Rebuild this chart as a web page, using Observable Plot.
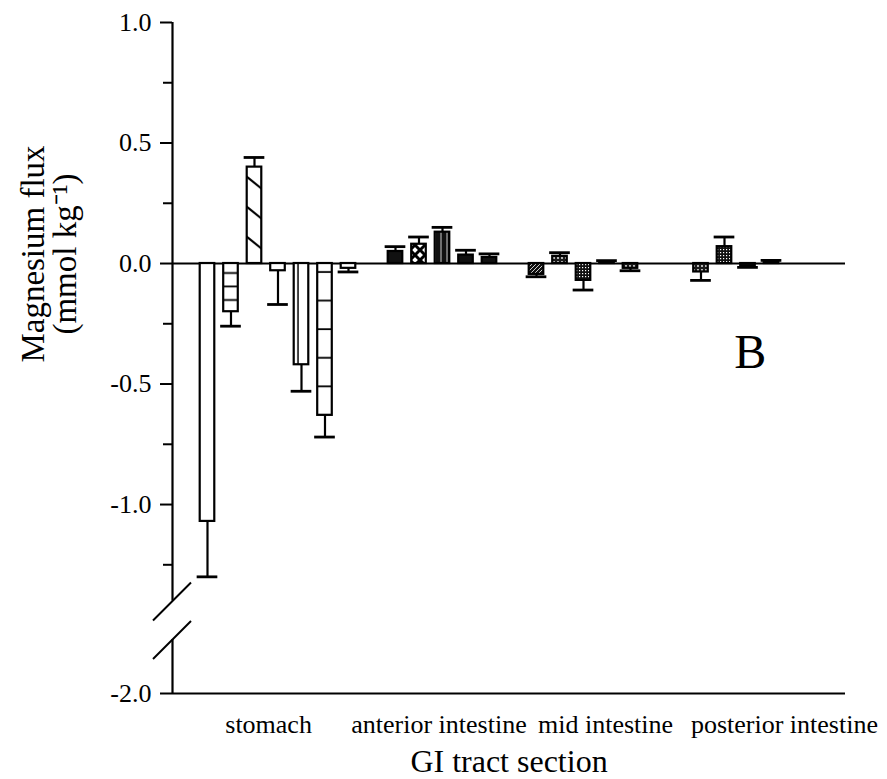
<!DOCTYPE html>
<html>
<head>
<meta charset="utf-8">
<script src="https://cdn.jsdelivr.net/npm/d3@7"></script>
<script src="https://cdn.jsdelivr.net/npm/@observablehq/plot@0.6"></script>
<style>
  html, body { margin: 0; padding: 0; background: #fff; }
  svg { display: block; }
</style>
</head>
<body>
<div id="chart"></div>
<script>
// ---------- data ----------
const categories = ["stomach", "anterior intestine", "mid intestine", "posterior intestine"];
// seven treatments per GI section (mean flux, mmol kg-1)
const stomachMeans   = [-1.07, -0.20, 0.40, -0.03, -0.42, -0.63, -0.02];
const stomachErrs    = [0.23, 0.06, 0.04, 0.14, 0.11, 0.09, 0.015];
const anteriorMeans  = [0, 0.05, 0.08, 0.13, 0.035, 0.025, 0];
const anteriorErrs   = [0, 0.02, 0.03, 0.02, 0.02, 0.015, 0];
const midMeans       = [-0.045, 0.03, -0.07, 0.005, -0.02, 0, 0];
const midErrs        = [0.01, 0.015, 0.04, 0.007, 0.01, 0, 0];
const posteriorMeans = [-0.035, 0.07, -0.01, 0.005, 0, 0, 0];
const posteriorErrs  = [0.035, 0.04, 0.006, 0.008, 0, 0, 0];

const majorTicks = [-2.0, -1.0, -0.5, 0.0, 0.5, 1.0];
const minorTicks = [-1.25, -0.75, -0.25, 0.25, 0.75];
const categoryLabelPos = [2.6, 9.85, 16.94, 24.55];   // in bar-slot units
const axisSegments = [{from: 1.0, to: -1.40}, {from: -1.65, to: -2.0}];
const breakAt = [-1.40, -1.65];
const yTitle = "Magnesium flux\n(mmol kg\u207B\u00B9)";
const xTitle = "GI tract section";
const panelLetter = "B";
const panelLetterPos = {x: 23.1, y: -0.37};

// ---------- styles (fills per bar) ----------
const stomachFill   = ["white", "url(#pHl13)", "url(#pDiag)", "white", "url(#pVl)", "url(#pHl28)", "white"];
const anteriorFill  = ["#111", "#111", "url(#pX)", "url(#pBlackV)", "#111", "#111", "#111"];
const midFill       = ["url(#pHatch)", "url(#pDots)", "url(#pChecker)", "#111", "url(#pDots)", "#111", "#111"];
const posteriorFill = ["url(#pDots)", "url(#pChecker)", "#111", "#111", "#111", "#111", "#111"];

// broken axis: values below the break are compressed
const breakTop = -1.40, compress = 0.64;
const fold = v => v >= breakTop ? v : breakTop + (v - breakTop) * compress;
const unfold = u => u >= breakTop ? u : breakTop + (u - breakTop) / compress;

const groupMeans = [stomachMeans, anteriorMeans, midMeans, posteriorMeans];
const groupErrs = [stomachErrs, anteriorErrs, midErrs, posteriorErrs];
const groupFills = [stomachFill, anteriorFill, midFill, posteriorFill];
const perGroup = 7;

const bars = [];
groupMeans.forEach((means, g) => means.forEach((v, k) => {
  const e = groupErrs[g][k];
  bars.push({
    i: g * perGroup + k,
    group: categories[g],
    v,
    err: v === 0 ? 0 : v + Math.sign(v) * e,
    fill: groupFills[g][k]
  });
}));

const xMin = -1.489, xMax = 27.149;
const half = 0.31, capHalf = 0.44;
const font = '"Liberation Serif", "Times New Roman", Times, serif';

const breakMark = (index, scales) => {
  const g = d3.create("svg:g").attr("stroke", "black").attr("stroke-width", 2);
  for (const b of breakAt) {
    const px = scales.x(xMin), py = scales.y(fold(b));
    g.append("line")
      .attr("x1", px - 19).attr("y1", py + 20)
      .attr("x2", px + 19).attr("y2", py - 18);
  }
  return g.node();
};

const withErr = bars.filter(d => d.err !== d.v);
const drawn = bars.filter(d => d.v !== 0);

const chart = Plot.plot({
  width: 887,
  height: 779,
  marginLeft: 172,
  marginRight: 42,
  marginTop: 22,
  marginBottom: 86,
  style: {fontFamily: font, fontSize: "25px", color: "black", background: "white"},
  x: {domain: [xMin, xMax], axis: null},
  y: {domain: [fold(-2.0), 1.0], axis: null},
  color: {type: "identity"},
  marks: [
    Plot.ruleY([0], {y: fold, stroke: "black", strokeWidth: 2.2}),
    Plot.ruleY([-2.0], {y: fold, stroke: "black", strokeWidth: 2.2}),
    Plot.ruleX(axisSegments, {x: xMin, y1: d => fold(d.from), y2: d => fold(d.to), stroke: "black", strokeWidth: 2.2}),
    breakMark,
    Plot.axisY(majorTicks.map(fold), {tickSize: 12, tickPadding: 9, strokeWidth: 2,
      tickFormat: u => unfold(u).toFixed(1), label: null, fontSize: 26}),
    Plot.axisY(minorTicks.map(fold), {tickSize: 9, strokeWidth: 2, tickFormat: () => "", label: null}),
    Plot.ruleX(withErr, {x: "i", y1: d => fold(d.v), y2: d => fold(d.err), stroke: "black", strokeWidth: 2.2}),
    Plot.ruleY(withErr, {y: d => fold(d.err), x1: d => d.i - capHalf, x2: d => d.i + capHalf, stroke: "black", strokeWidth: 2.8}),
    Plot.rect(drawn, {x1: d => d.i - half, x2: d => d.i + half, y1: 0, y2: d => fold(d.v),
      fill: "fill", stroke: "black", strokeWidth: 2.2}),
    Plot.text(categories, {x: (d, k) => categoryLabelPos[k], y: fold(-2.0), dy: 31,
      text: d => d, fontSize: 26, textAnchor: "middle", lineAnchor: "middle"}),
    Plot.text([xTitle], {frameAnchor: "bottom", dy: 68, text: d => d, fontSize: 32,
      textAnchor: "middle", lineAnchor: "middle"}),
    Plot.text([yTitle], {frameAnchor: "left", rotate: -90, dx: -123, dy: -104, text: d => d,
      fontSize: 33, lineHeight: 0.97, textAnchor: "middle", lineAnchor: "middle"}),
    Plot.text([panelLetter], {x: panelLetterPos.x, y: panelLetterPos.y, text: d => d,
      fontSize: 48, textAnchor: "middle", lineAnchor: "middle"})
  ]
});

const svg = chart.tagName.toLowerCase() === "svg" ? chart : chart.querySelector("svg");
const defs = document.createElementNS("http://www.w3.org/2000/svg", "defs");
defs.innerHTML = `
  <pattern id="pHl13" patternUnits="userSpaceOnUse" x="0" y="263" width="20" height="13.5">
    <rect width="20" height="13.5" fill="white"/>
    <line x1="0" y1="10" x2="20" y2="10" stroke="black" stroke-width="1.8"/>
  </pattern>
  <pattern id="pHl28" patternUnits="userSpaceOnUse" x="0" y="263" width="20" height="28.6">
    <rect width="20" height="28.6" fill="white"/>
    <line x1="0" y1="9" x2="20" y2="9" stroke="black" stroke-width="1.8"/>
  </pattern>
  <pattern id="pDiag" patternUnits="userSpaceOnUse" x="246" y="170" width="23.5" height="30">
    <rect width="23.5" height="30" fill="white"/>
    <path d="M0,6 L16,19" stroke="black" stroke-width="2.2"/>
  </pattern>
  <pattern id="pVl" patternUnits="userSpaceOnUse" x="294" y="0" width="23.5" height="10">
    <rect width="23.5" height="10" fill="white"/>
    <line x1="4" y1="0" x2="4" y2="10" stroke="black" stroke-width="1.5"/>
  </pattern>
  <pattern id="pX" patternUnits="userSpaceOnUse" x="0" y="0" width="10" height="10">
    <rect width="10" height="10" fill="white"/>
    <path d="M0,0 L10,10 M10,0 L0,10" stroke="black" stroke-width="3"/>
  </pattern>
  <pattern id="pBlackV" patternUnits="userSpaceOnUse" x="0" y="0" width="6" height="10">
    <rect width="6" height="10" fill="#111"/>
    <line x1="3" y1="0" x2="3" y2="10" stroke="white" stroke-width="0.8"/>
  </pattern>
  <pattern id="pHatch" patternUnits="userSpaceOnUse" x="0" y="0" width="4" height="4">
    <rect width="4" height="4" fill="#111"/>
    <path d="M0,4 L4,0" stroke="white" stroke-width="0.8"/>
  </pattern>
  <pattern id="pDots" patternUnits="userSpaceOnUse" x="0" y="0" width="4" height="4">
    <rect width="4" height="4" fill="#1a1a1a"/>
    <circle cx="2" cy="2" r="0.9" fill="white"/>
  </pattern>
  <pattern id="pChecker" patternUnits="userSpaceOnUse" x="0" y="0" width="3" height="3">
    <rect width="3" height="3" fill="#111"/>
    <rect width="1.2" height="1.2" fill="white"/>
  </pattern>`;
svg.insertBefore(defs, svg.firstChild);

document.getElementById("chart").appendChild(chart);
</script>
</body>
</html>
